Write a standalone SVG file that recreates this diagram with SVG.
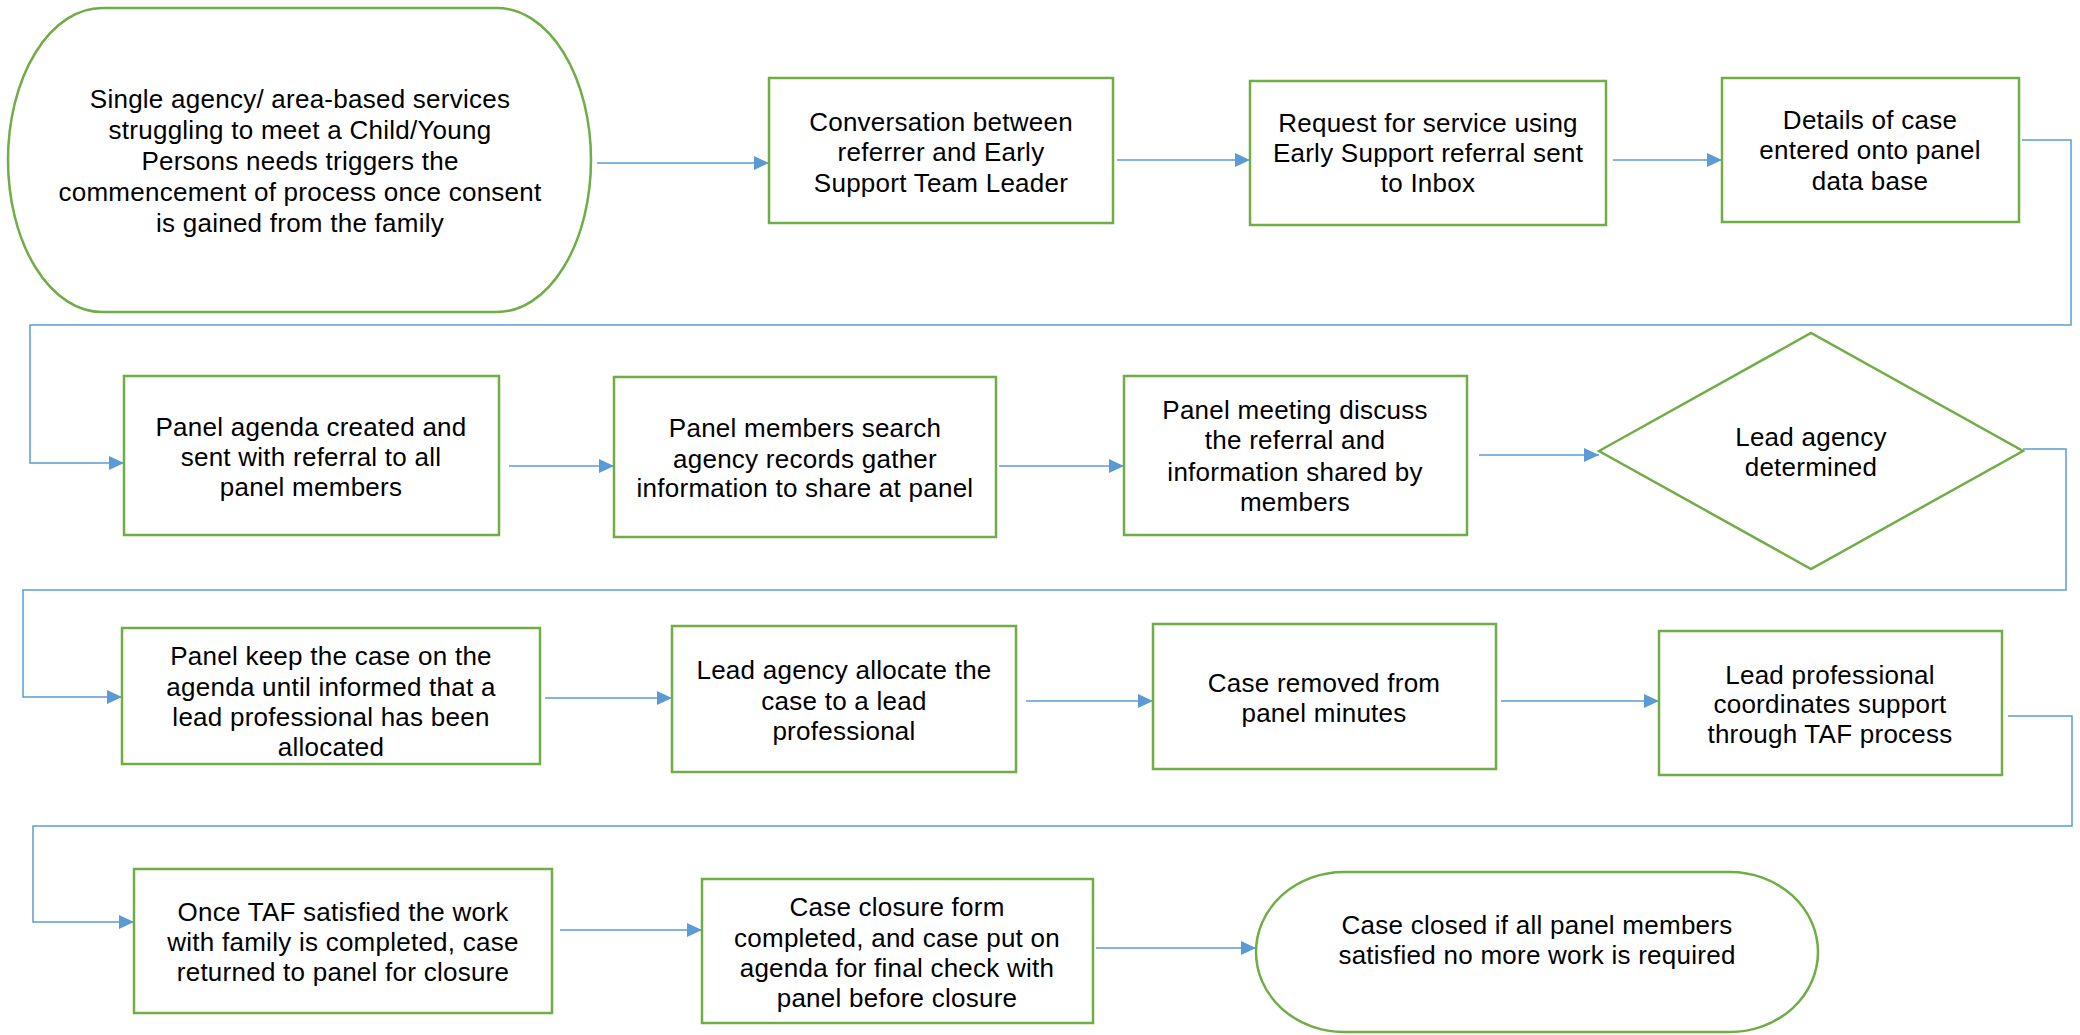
<svg xmlns="http://www.w3.org/2000/svg" width="2080" height="1035" viewBox="0 0 2080 1035">
<style>
.n{fill:#fff;stroke:#70AD47;stroke-width:2.5}
.t{font-family:"Liberation Sans",Arial,sans-serif;font-size:26px;letter-spacing:0.25px;fill:#000;text-anchor:middle}
.c{fill:none;stroke:#5B9BD5;stroke-width:1.5}
</style>
<defs>
<marker id="ah" markerUnits="userSpaceOnUse" markerWidth="15" markerHeight="14" refX="15" refY="7" orient="auto">
<path d="M0,0 L15,7 L0,14 z" fill="#5B9BD5"/>
</marker>
</defs>
<rect width="2080" height="1035" fill="#fff"/>
<g id="connectors">
<path class="c" d="M597,163 H769" marker-end="url(#ah)"/>
<path class="c" d="M1117,160 H1250" marker-end="url(#ah)"/>
<path class="c" d="M1613,160 H1722" marker-end="url(#ah)"/>
<path class="c" d="M2022,140 H2071 V325 H30 V463 H124" marker-end="url(#ah)"/>
<path class="c" d="M509,466 H614" marker-end="url(#ah)"/>
<path class="c" d="M999,466 H1124" marker-end="url(#ah)"/>
<path class="c" d="M1479,455 H1599" marker-end="url(#ah)"/>
<path class="c" d="M2023,449 H2066 V590 H23 V697 H122" marker-end="url(#ah)"/>
<path class="c" d="M545,698 H672" marker-end="url(#ah)"/>
<path class="c" d="M1026,701 H1153" marker-end="url(#ah)"/>
<path class="c" d="M1501,701 H1659" marker-end="url(#ah)"/>
<path class="c" d="M2008,716 H2072 V826 H33 V922 H134" marker-end="url(#ah)"/>
<path class="c" d="M560,930 H702" marker-end="url(#ah)"/>
<path class="c" d="M1096,948 H1256" marker-end="url(#ah)"/>
</g>
<g id="n1">
<rect class="n" x="8" y="8" width="583" height="304" rx="94" ry="152"/>
<text class="t" x="300" y="108">Single agency/ area-based services</text>
<text class="t" x="300" y="139">struggling to meet a Child/Young</text>
<text class="t" x="300" y="170">Persons needs triggers the</text>
<text class="t" x="300" y="201">commencement of process once consent</text>
<text class="t" x="300" y="232">is gained from the family</text>
</g>
<g id="n2">
<rect class="n" x="769" y="78" width="344" height="145"/>
<text class="t" x="941" y="131">Conversation between</text>
<text class="t" x="941" y="161">referrer and Early</text>
<text class="t" x="941" y="192">Support Team Leader</text>
</g>
<g id="n3">
<rect class="n" x="1250" y="81" width="356" height="144"/>
<text class="t" x="1428" y="132">Request for service using</text>
<text class="t" x="1428" y="162">Early Support referral sent</text>
<text class="t" x="1428" y="192">to Inbox</text>
</g>
<g id="n4">
<rect class="n" x="1722" y="78" width="297" height="144"/>
<text class="t" x="1870" y="129">Details of case</text>
<text class="t" x="1870" y="159">entered onto panel</text>
<text class="t" x="1870" y="190">data base</text>
</g>
<g id="n5">
<rect class="n" x="124" y="376" width="375" height="159"/>
<text class="t" x="311" y="436">Panel agenda created and</text>
<text class="t" x="311" y="466">sent with referral to all</text>
<text class="t" x="311" y="496">panel members</text>
</g>
<g id="n6">
<rect class="n" x="614" y="377" width="382" height="160"/>
<text class="t" x="805" y="437">Panel members search</text>
<text class="t" x="805" y="468">agency records gather</text>
<text class="t" x="805" y="497">information to share at panel</text>
</g>
<g id="n7">
<rect class="n" x="1124" y="376" width="343" height="159"/>
<text class="t" x="1295" y="419">Panel meeting discuss</text>
<text class="t" x="1295" y="449">the referral and</text>
<text class="t" x="1295" y="481">information shared by</text>
<text class="t" x="1295" y="511">members</text>
</g>
<g id="n8">
<polygon class="n" points="1599,451 1811,333 2023,451 1811,569"/>
<text class="t" x="1811" y="446">Lead agency</text>
<text class="t" x="1811" y="476">determined</text>
</g>
<g id="n9">
<rect class="n" x="122" y="628" width="418" height="136"/>
<text class="t" x="331" y="665">Panel keep the case on the</text>
<text class="t" x="331" y="696">agenda until informed that a</text>
<text class="t" x="331" y="726">lead professional has been</text>
<text class="t" x="331" y="756">allocated</text>
</g>
<g id="n10">
<rect class="n" x="672" y="626" width="344" height="146"/>
<text class="t" x="844" y="679">Lead agency allocate the</text>
<text class="t" x="844" y="710">case to a lead</text>
<text class="t" x="844" y="740">professional</text>
</g>
<g id="n11">
<rect class="n" x="1153" y="624" width="343" height="145"/>
<text class="t" x="1324" y="692">Case removed from</text>
<text class="t" x="1324" y="722">panel minutes</text>
</g>
<g id="n12">
<rect class="n" x="1659" y="631" width="343" height="144"/>
<text class="t" x="1830" y="684">Lead professional</text>
<text class="t" x="1830" y="713">coordinates support</text>
<text class="t" x="1830" y="743">through TAF process</text>
</g>
<g id="n13">
<rect class="n" x="134" y="869" width="418" height="144"/>
<text class="t" x="343" y="921">Once TAF satisfied the work</text>
<text class="t" x="343" y="951">with family is completed, case</text>
<text class="t" x="343" y="981">returned to panel for closure</text>
</g>
<g id="n14">
<rect class="n" x="702" y="879" width="391" height="144"/>
<text class="t" x="897" y="916">Case closure form</text>
<text class="t" x="897" y="947">completed, and case put on</text>
<text class="t" x="897" y="977">agenda for final check with</text>
<text class="t" x="897" y="1007">panel before closure</text>
</g>
<g id="n15">
<rect class="n" x="1256" y="872" width="562" height="160" rx="88" ry="80"/>
<text class="t" x="1537" y="934">Case closed if all panel members</text>
<text class="t" x="1537" y="964">satisfied no more work is required</text>
</g>
</svg>
